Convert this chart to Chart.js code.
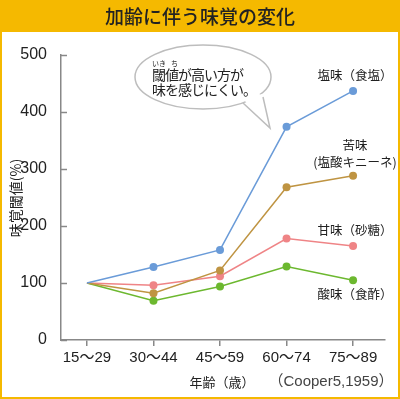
<!DOCTYPE html>
<html>
<head>
<meta charset="utf-8">
<script src="https://cdn.jsdelivr.net/npm/chart.js@4.4.1/dist/chart.umd.min.js"></script>
<style>
html,body{margin:0;padding:0;background:#fff}
#wrap{width:400px;height:399px;position:relative}
</style>
</head>
<body>
<div id="wrap"><canvas id="c"></canvas></div>
<script>
const ages=["15〜29","30〜44","45〜59","60〜74","75〜89"]
const salt=[100,128,158,374,437]
const bitter=[100,82,122,268,288]
const sweet=[100,96,112,178,165]
const sour=[100,69,94,129,105]
const yTicks=[0,100,200,300,400,500]

const jp='"Noto Sans CJK JP", sans-serif'
const num='"Liberation Sans", "Noto Sans CJK JP", sans-serif'

function pts(arr){return arr.map((v,i)=>({x:i,y:v}))}

// first age group is the 100% baseline: no marker there
function line(label,data,color){
return {label:label,data:pts(data),borderColor:color,backgroundColor:color,
borderWidth:1.5,pointRadius:data.map((v,i)=>i===0?0:4),pointBorderWidth:0,tension:0}
}

const deco={
id:"deco",
beforeDraw(chart){
const c=chart.ctx
c.save()
c.fillStyle="#fff"
c.fillRect(0,0,400,399)
c.fillStyle="#f5b900"
c.fillRect(0,0,400,32)
c.strokeStyle="#f5b900"
c.lineWidth=2
c.strokeRect(1,1,398,397)
c.fillStyle="#222"
c.font='500 19px '+jp
c.textAlign="center"
c.textBaseline="middle"
c.fillText("加齢に伴う味覚の変化",200,17)

// speech bubble
c.fillStyle="#fff"
c.strokeStyle="#bdbdbd"
c.lineWidth=1.5
c.beginPath()
c.ellipse(203,77,68,32,0,0,Math.PI*2)
c.fill()
c.stroke()
c.beginPath()
c.moveTo(244,100)
c.lineTo(270,128)
c.lineTo(262,94)
c.closePath()
c.fill()
c.beginPath()
c.moveTo(243,103)
c.lineTo(270,128)
c.lineTo(263,97)
c.stroke()
c.fillStyle="#fff"
c.beginPath()
c.moveTo(245,101)
c.lineTo(262,96)
c.lineTo(258,93)
c.lineTo(243,99)
c.closePath()
c.fill()

c.fillStyle="#222"
c.textAlign="left"
c.font='14px '+jp
c.letterSpacing="-1px"
c.fillText("閾値が高い方が",152,75)
c.fillText("味を感じにくい。",152,90)
c.letterSpacing="0px"
c.font='7px '+jp
c.fillText("いき",152,63)
c.fillText("ち",171,63)
c.restore()
},
afterDatasetsDraw(chart){
const c=chart.ctx
const y=chart.scales.y
const x0=chart.chartArea.left
c.save()
c.strokeStyle="#888"
c.lineWidth=1.5
yTicks.forEach(v=>{
const py=Math.round(y.getPixelForValue(v))+0.5
c.beginPath()
c.moveTo(x0,py)
c.lineTo(x0+6,py)
c.stroke()
})
c.fillStyle="#222"
c.textAlign="center"
c.textBaseline="middle"
c.font='12.5px '+jp
c.fillText("塩味（食塩）",355,75)
c.fillText("苦味",355,145)
c.fillText("甘味（砂糖）",355,230)
c.fillText("酸味（食酢）",355,294)
c.font='12.5px '+jp
c.fillText("(塩酸キニーネ)",355,162)
c.font='13px '+jp
c.fillText("年齢（歳）",222,382)
c.fillStyle="#444"
c.font='15px '+num
c.fillText("（Cooper5,1959）",331,382)
c.fillStyle="#222"
c.translate(16,198)
c.rotate(-Math.PI/2)
c.font='14px '+jp
c.fillText("味覚閾値(%)",0,0)
c.restore()
}
}

new Chart(document.getElementById("c"),{
type:"line",
data:{datasets:[
line("塩味（食塩）",salt,"#6a9bd8"),
line("苦味（塩酸キニーネ）",bitter,"#bf9442"),
line("甘味（砂糖）",sweet,"#ef8486"),
line("酸味（食酢）",sour,"#6cb82f")
]},
options:{
responsive:true,
maintainAspectRatio:false,
animation:false,
layout:{padding:{top:55,right:15,left:0,bottom:0}},
plugins:{legend:{display:false},tooltip:{enabled:false}},
scales:{
x:{
type:"linear",
min:-0.39,max:4.48,
afterBuildTicks(s){s.ticks=ages.map((a,i)=>({value:i}))},
afterFit(s){s.height=59},
grid:{display:true,drawOnChartArea:false,drawTicks:true,tickLength:6,color:"#888",lineWidth:1.5},
border:{display:true,color:"#888",width:1.5},
ticks:{padding:3,color:"#222",font:{family:num,size:15},maxRotation:0,
callback:v=>ages[v]}
},
y:{
min:0,max:500,
afterBuildTicks(s){s.ticks=yTicks.map(v=>({value:v}))},
afterFit(s){s.width=61},
grid:{display:false},
border:{display:true,color:"#888",width:1.5},
ticks:{padding:6,color:"#222",font:{family:num,size:16}}
}
}
},
plugins:[deco]
})
</script>
</body>
</html>
